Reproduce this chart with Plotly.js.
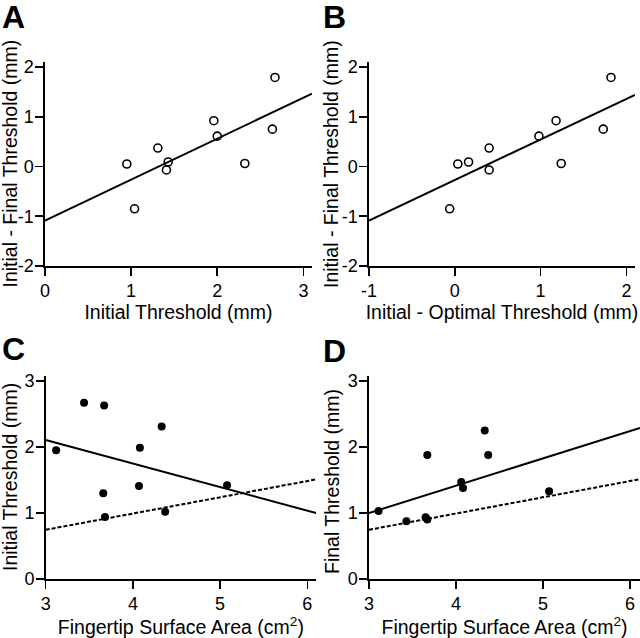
<!DOCTYPE html>
<html>
<head>
<meta charset="utf-8">
<script src="https://cdn.plot.ly/plotly-3.0.1.min.js"></script>
<style>html,body{margin:0;padding:0;background:#fff}#chart{width:640px;height:638px}</style>
</head>
<body>
<div id="chart"></div>
<script>
// Panel A: Initial threshold vs (Initial - Final)
const aX = [0.95, 1.04, 1.31, 1.43, 1.41, 1.96, 2.00, 2.32, 2.64, 2.67];
const abY = [0.05, -0.85, 0.37, 0.09, -0.07, 0.92, 0.61, 0.06, 0.75, 1.79];
const aLineX = [0, 3.1];
const aLineY = [-1.09, 1.465];
// Panel B: (Initial - Optimal) vs (Initial - Final)
const bX = [0.035, -0.06, 0.40, 0.16, 0.40, 1.18, 0.98, 1.24, 1.73, 1.82];
const bLineX = [-1, 2.1];
const bLineY = [-1.087, 1.44];
// Panel C: fingertip area vs initial threshold
const cX = [3.12, 3.44, 3.67, 3.66, 3.68, 4.08, 4.07, 4.33, 4.37, 5.08];
const cY = [1.95, 2.67, 2.63, 1.30, 0.94, 1.99, 1.41, 2.31, 1.02, 1.42];
const cLineX = [3, 6.1];
const cLineY = [2.108, 1.0];
// Panel D: fingertip area vs final threshold
const dX = [3.11, 3.43, 3.65, 3.67, 3.67, 4.06, 4.08, 4.33, 4.37, 5.07];
const dY = [1.03, 0.875, 0.935, 0.90, 1.88, 1.47, 1.38, 2.25, 1.88, 1.33];
const dLineX = [3, 6.115];
const dLineY = [1.0, 2.29];
// Dashed reference line (C and D)
const refLineX = [3, 6.115];
const refLineY = [0.746, 1.513];

// Tick values / labels (hyphen minus as in the reference)
const tickA_x = [0, 1, 2, 3];
const tickB_x = [-1, 0, 1, 2];
const tickAB_y = [-2, -1, 0, 1, 2];
const tickCD_x = [3, 4, 5, 6];
const tickCD_y = [0, 1, 2, 3];
const lbl = v => v.map(t => (t < 0 ? '-' + Math.abs(t) : String(t)));

// Axis titles and panel letters
const yTitles = ['Initial - Final Threshold (mm)', 'Initial - Final Threshold (mm)', 'Initial Threshold (mm)', 'Final Threshold (mm)'];
const xTitles = ['Initial Threshold (mm)', 'Initial - Optimal Threshold (mm)', 'Fingertip Surface Area (cm<sup>2</sup>)', 'Fingertip Surface Area (cm<sup>2</sup>)'];
const panelLetters = ['A', 'B', 'C', 'D'];

const openM = {symbol: 'circle-open', size: 8, color: 'black', line: {width: 1.6, color: 'black'}};
const fillM = {symbol: 'circle', size: 8, color: 'black'};
const solid = {color: 'black', width: 2};
const dashed = {color: 'black', width: 2, dash: '4px,2px'};

const traces = [
  {x: aLineX, y: aLineY, mode: 'lines', line: solid, xaxis: 'x', yaxis: 'y'},
  {x: aX, y: abY, mode: 'markers', marker: openM, xaxis: 'x', yaxis: 'y'},
  {x: bLineX, y: bLineY, mode: 'lines', line: solid, xaxis: 'x2', yaxis: 'y2'},
  {x: bX, y: abY, mode: 'markers', marker: openM, xaxis: 'x2', yaxis: 'y2'},
  {x: cLineX, y: cLineY, mode: 'lines', line: solid, xaxis: 'x3', yaxis: 'y3'},
  {x: refLineX, y: refLineY, mode: 'lines', line: dashed, xaxis: 'x3', yaxis: 'y3'},
  {x: cX, y: cY, mode: 'markers', marker: fillM, xaxis: 'x3', yaxis: 'y3'},
  {x: dLineX, y: dLineY, mode: 'lines', line: solid, xaxis: 'x4', yaxis: 'y4'},
  {x: refLineX, y: refLineY, mode: 'lines', line: dashed, xaxis: 'x4', yaxis: 'y4'},
  {x: dX, y: dY, mode: 'markers', marker: fillM, xaxis: 'x4', yaxis: 'y4'}
];

const fam = 'Liberation Sans, Arial, Helvetica, sans-serif';
const font = {family: fam, size: 19.5, color: 'black'};
function ax(domain, range, anchor, ticks, title) {
  const o = {
    domain: domain, range: range, anchor: anchor,
    showline: true, linecolor: 'black', linewidth: 1.6,
    ticks: 'outside', ticklen: 8, tickwidth: 1.6, tickcolor: 'black',
    tickmode: 'array', tickvals: ticks, ticktext: lbl(ticks),
    showgrid: false, zeroline: false,
    tickfont: {family: fam, size: 18, color: 'black'},
    automargin: false, fixedrange: true
  };
  if (title) o.title = {text: title, font: font, standoff: 2};
  else o.ticklabelstandoff = -2;
  return o;
}

const yAB = [0.5831, 0.9028];
const yCD = [0.0925, 0.4099];
const lab = {family: fam, size: 32, color: 'black'};

const W = 640, H = 638;
function yTitleAnn(text, px, py) {
  return {text: text, x: px / W, y: 1 - py / H, xref: 'paper', yref: 'paper',
    xanchor: 'center', yanchor: 'middle', textangle: -90, showarrow: false, font: font};
}
function letterAnn(text, px, py) {
  return {text: '<b>' + text + '</b>', x: px / W, y: 1 - py / H, xref: 'paper', yref: 'paper',
    xanchor: 'left', yanchor: 'top', showarrow: false, font: lab};
}

const layout = {
  width: W, height: H,
  margin: {l: 0, r: 0, t: 0, b: 0},
  paper_bgcolor: 'white', plot_bgcolor: 'white',
  showlegend: false,
  font: font,
  xaxis: ax([0.0703, 0.4875], [0, 3.1], 'y', tickA_x, xTitles[0]),
  yaxis: ax(yAB, [-2, 2.1], 'x', tickAB_y),
  xaxis2: ax([0.5766, 0.9922], [-1, 2.1], 'y2', tickB_x, xTitles[1]),
  yaxis2: ax(yAB, [-2, 2.1], 'x2', tickAB_y),
  xaxis3: ax([0.0714, 0.4938], [3, 6.1], 'y3', tickCD_x, xTitles[2]),
  yaxis3: ax(yCD, [0, 3.07], 'x3', tickCD_y),
  xaxis4: ax([0.5766, 1.0], [3, 6.115], 'y4', tickCD_x, xTitles[3]),
  yaxis4: ax(yCD, [0, 3.07], 'x4', tickCD_y),
  annotations: [
    yTitleAnn(yTitles[0], 9.5, 164),
    yTitleAnn(yTitles[1], 331, 164),
    yTitleAnn(yTitles[2], 10, 477),
    yTitleAnn(yTitles[3], 332, 482),
    letterAnn(panelLetters[0], 0, -3),
    letterAnn(panelLetters[1], 321, -3),
    letterAnn(panelLetters[2], 0, 329),
    letterAnn(panelLetters[3], 321, 331)
  ]
};

Plotly.newPlot('chart', traces, layout, {staticPlot: true, displayModeBar: false});
</script>
</body>
</html>
